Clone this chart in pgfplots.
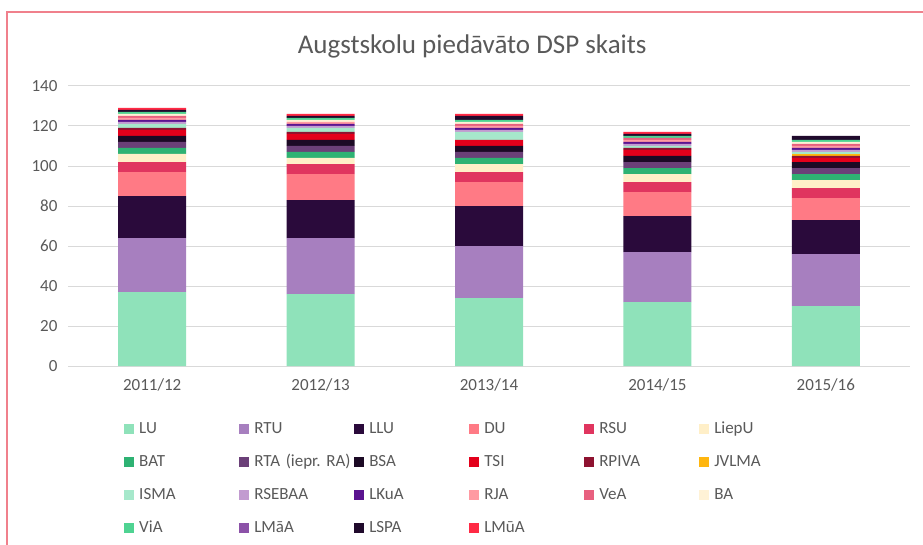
\documentclass[border=0pt]{standalone}
\usepackage{fontspec}
\setmainfont{Carlito}
\usepackage{pgfplots}
\usepackage{pgfplotstable}
\pgfplotsset{compat=1.18}

\definecolor{cLU}{RGB}{143,226,186}
\definecolor{cRTU}{RGB}{167,127,191}
\definecolor{cLLU}{RGB}{42,10,59}
\definecolor{cDU}{RGB}{255,122,133}
\definecolor{cRSU}{RGB}{224,53,95}
\definecolor{cLiepU}{RGB}{255,239,200}
\definecolor{cBAT}{RGB}{46,178,115}
\definecolor{cRTA}{RGB}{107,64,120}
\definecolor{cBSA}{RGB}{28,10,37}
\definecolor{cTSI}{RGB}{227,0,27}
\definecolor{cRPIVA}{RGB}{142,18,48}
\definecolor{cJVLMA}{RGB}{255,182,15}
\definecolor{cISMA}{RGB}{166,232,203}
\definecolor{cRSEBAA}{RGB}{194,155,208}
\definecolor{cLKuA}{RGB}{91,20,144}
\definecolor{cRJA}{RGB}{255,154,162}
\definecolor{cVeA}{RGB}{232,96,127}
\definecolor{cBA}{RGB}{255,242,214}
\definecolor{cViA}{RGB}{79,211,146}
\definecolor{cLMaA}{RGB}{140,82,168}
\definecolor{cLSPA}{RGB}{32,10,44}
\definecolor{cLMuA}{RGB}{255,42,69}
\definecolor{txtgray}{RGB}{89,89,89}
\definecolor{gridgray}{RGB}{217,217,217}
\definecolor{frame}{RGB}{240,128,140}

\pgfplotstableread{
x LU RTU LLU DU RSU LiepU BAT RTA BSA TSI RPIVA JVLMA ISMA RSEBAA LKuA RJA VeA BA ViA LMaA LSPA LMuA
0 37 27 21 12 5 4 3 3 3 3 1 0 2 1 1 1 1 1 1 0 1 1
1 36 28 19 13 5 3 3 3 3 3 1 0 2 1 1 1 0 1 1 0 1 1
2 34 26 20 12 5 4 3 3 3 3 0 0 4 1 1 1 1 1 1 0 2 1
3 32 25 18 12 5 4 3 3 3 3 1 0 1 1 1 1 1 0 1 0 1 1
4 30 26 17 11 5 4 3 3 3 2 1 1 1 1 1 1 1 1 1 0 2 0
}\data

\begin{document}
\begin{tikzpicture}
\path[use as bounding box] (0pt,0pt) rectangle (923pt,544pt);
\draw[frame, line width=2pt] (7pt,-2pt) -- (7pt,532pt) -- (925pt,532pt);
\begin{axis}[
  at={(68pt,178pt)}, anchor=south west,
  scale only axis, width=842pt, height=280pt,
  ybar stacked, bar width=68pt,
  xmin=-0.5, xmax=4.5, ymin=0, ymax=140,
  ytick={0,20,...,140},
  xtick={0,1,2,3,4},
  xticklabels={2011/12,2012/13,2013/14,2014/15,2015/16},
  axis x line*=bottom, axis y line*=left,
  y axis line style={draw=none},
  x axis line style={draw=gridgray, line width=1pt},
  major tick length=0pt,
  ymajorgrids, grid style={draw=gridgray, line width=1pt},
  /pgf/number format/assume math mode=true,
  tick label style={font=\fontsize{17}{20}\selectfont, text=txtgray},
  yticklabel style={xshift=-7pt},
  xticklabel style={yshift=-9pt},
  title={Augstskolu piedāvāto DSP skaits},
  title style={at={(axis description cs:0.48,1.121)}, anchor=center, font=\fontsize{27}{32}\selectfont, text=txtgray},
  legend columns=6,
  legend image code/.code={\fill[#1] (0pt,-1pt) rectangle (10pt,9pt); \path (13pt,0pt);},
  legend style={at={(axis description cs:0.063,-0.189)}, anchor=north west,
    draw=none, fill=none, font=\fontsize{17}{20}\selectfont, text=txtgray,
    nodes={inner xsep=2pt, inner ysep=0pt, text height=12pt, text depth=4pt, anchor=base west},
    /tikz/every even column/.append style={text width=98pt, align=left},
    column sep=0pt, row sep=17pt},
  every axis plot/.append style={draw=none},
]
\addplot[fill=cLU] table[x=x,y=LU]{\data};
\addplot[fill=cRTU] table[x=x,y=RTU]{\data};
\addplot[fill=cLLU] table[x=x,y=LLU]{\data};
\addplot[fill=cDU] table[x=x,y=DU]{\data};
\addplot[fill=cRSU] table[x=x,y=RSU]{\data};
\addplot[fill=cLiepU] table[x=x,y=LiepU]{\data};
\addplot[fill=cBAT] table[x=x,y=BAT]{\data};
\addplot[fill=cRTA] table[x=x,y=RTA]{\data};
\addplot[fill=cBSA] table[x=x,y=BSA]{\data};
\addplot[fill=cTSI] table[x=x,y=TSI]{\data};
\addplot[fill=cRPIVA] table[x=x,y=RPIVA]{\data};
\addplot[fill=cJVLMA] table[x=x,y=JVLMA]{\data};
\addplot[fill=cISMA] table[x=x,y=ISMA]{\data};
\addplot[fill=cRSEBAA] table[x=x,y=RSEBAA]{\data};
\addplot[fill=cLKuA] table[x=x,y=LKuA]{\data};
\addplot[fill=cRJA] table[x=x,y=RJA]{\data};
\addplot[fill=cVeA] table[x=x,y=VeA]{\data};
\addplot[fill=cBA] table[x=x,y=BA]{\data};
\addplot[fill=cViA] table[x=x,y=ViA]{\data};
\addplot[fill=cLMaA] table[x=x,y=LMaA]{\data};
\addplot[fill=cLSPA] table[x=x,y=LSPA]{\data};
\addplot[fill=cLMuA] table[x=x,y=LMuA]{\data};
\legend{LU,RTU,LLU,DU,RSU,LiepU,BAT,\mbox{RTA (iepr.\ RA)},BSA,TSI,RPIVA,JVLMA,ISMA,RSEBAA,LKuA,RJA,VeA,BA,ViA,LMāA,LSPA,LMūA}
\end{axis}
\end{tikzpicture}
\end{document}
